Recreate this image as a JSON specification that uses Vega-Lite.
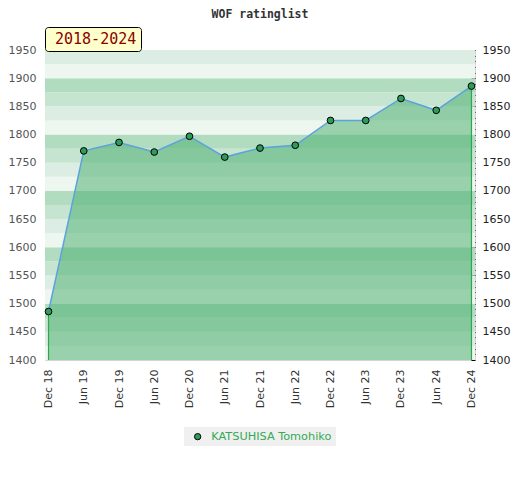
{
  "$schema": "https://vega.github.io/schema/vega-lite/v6.json",
  "width": 430,
  "height": 310,
  "autosize": "none",
  "padding": {"left": 45, "top": 50, "right": 45, "bottom": 120},
  "background": "white",
  "title": {
    "text": "WOF ratinglist",
    "font": "DejaVu Sans Mono",
    "fontSize": 11.5,
    "fontWeight": "bold",
    "color": "#333333",
    "anchor": "middle",
    "offset": 6
  },
  "config": {"view": {"stroke": "#d4d4d4"}},
  "datasets": {
    "ratings": [
      {"date": "Dec 18", "rating": 1486, "player": "KATSUHISA Tomohiko", "period": "2018-2024"},
      {"date": "Jun 19", "rating": 1771, "player": "KATSUHISA Tomohiko", "period": "2018-2024"},
      {"date": "Dec 19", "rating": 1786, "player": "KATSUHISA Tomohiko", "period": "2018-2024"},
      {"date": "Jun 20", "rating": 1769, "player": "KATSUHISA Tomohiko", "period": "2018-2024"},
      {"date": "Dec 20", "rating": 1797, "player": "KATSUHISA Tomohiko", "period": "2018-2024"},
      {"date": "Jun 21", "rating": 1760, "player": "KATSUHISA Tomohiko", "period": "2018-2024"},
      {"date": "Dec 21", "rating": 1776, "player": "KATSUHISA Tomohiko", "period": "2018-2024"},
      {"date": "Jun 22", "rating": 1781, "player": "KATSUHISA Tomohiko", "period": "2018-2024"},
      {"date": "Dec 22", "rating": 1825, "player": "KATSUHISA Tomohiko", "period": "2018-2024"},
      {"date": "Jun 23", "rating": 1825, "player": "KATSUHISA Tomohiko", "period": "2018-2024"},
      {"date": "Dec 23", "rating": 1864, "player": "KATSUHISA Tomohiko", "period": "2018-2024"},
      {"date": "Jun 24", "rating": 1843, "player": "KATSUHISA Tomohiko", "period": "2018-2024"},
      {"date": "Dec 24", "rating": 1886, "player": "KATSUHISA Tomohiko", "period": "2018-2024"}
    ],
    "bands": [
      {"lo": 1400, "hi": 1425, "tier": "d"},
      {"lo": 1425, "hi": 1450, "tier": "c"},
      {"lo": 1450, "hi": 1475, "tier": "b"},
      {"lo": 1475, "hi": 1500, "tier": "a"},
      {"lo": 1500, "hi": 1525, "tier": "d"},
      {"lo": 1525, "hi": 1550, "tier": "c"},
      {"lo": 1550, "hi": 1575, "tier": "b"},
      {"lo": 1575, "hi": 1600, "tier": "a"},
      {"lo": 1600, "hi": 1625, "tier": "d"},
      {"lo": 1625, "hi": 1650, "tier": "c"},
      {"lo": 1650, "hi": 1675, "tier": "b"},
      {"lo": 1675, "hi": 1700, "tier": "a"},
      {"lo": 1700, "hi": 1725, "tier": "d"},
      {"lo": 1725, "hi": 1750, "tier": "c"},
      {"lo": 1750, "hi": 1775, "tier": "b"},
      {"lo": 1775, "hi": 1800, "tier": "a"},
      {"lo": 1800, "hi": 1825, "tier": "d"},
      {"lo": 1825, "hi": 1850, "tier": "c"},
      {"lo": 1850, "hi": 1875, "tier": "b"},
      {"lo": 1875, "hi": 1900, "tier": "a"},
      {"lo": 1900, "hi": 1925, "tier": "d"},
      {"lo": 1925, "hi": 1950, "tier": "c"}
    ]
  },
  "resolve": {"axis": {"y": "independent"}, "scale": {"fill": "independent", "color": "independent"}},
  "layer": [
    {
      "data": {"name": "bands"},
      "mark": {"type": "rect"},
      "encoding": {
        "y": {
          "field": "lo",
          "type": "quantitative",
          "scale": {"domain": [1400, 1950], "nice": false, "zero": false},
          "axis": {
            "values": [1400, 1450, 1500, 1550, 1600, 1650, 1700, 1750, 1800, 1850, 1900, 1950],
            "format": "d",
            "ticks": false,
            "domain": false,
            "grid": false,
            "labelFlush": false,
            "labelOverlap": false,
            "labelFont": "DejaVu Sans",
            "labelFontSize": 11,
            "labelColor": "#555555",
            "labelPadding": 9,
            "title": null
          }
        },
        "y2": {"field": "hi"},
        "fill": {
          "field": "tier",
          "type": "nominal",
          "scale": {"domain": ["a", "b", "c", "d"], "range": ["#b2dcc0", "#c6e5d0", "#dcede3", "#eef6f0"]},
          "legend": null
        }
      }
    },
    {
      "mark": {"type": "rule", "color": "#c8c8c8", "strokeWidth": 1},
      "encoding": {
        "y": {"datum": 1900, "type": "quantitative", "scale": {"domain": [1400, 1950], "nice": false, "zero": false}, "axis": null}
      }
    },
    {
      "data": {"name": "ratings"},
      "mark": {"type": "area", "color": "#44ac6a", "fillOpacity": 0.5},
      "encoding": {
        "x": {
          "field": "date",
          "type": "ordinal",
          "sort": null,
          "scale": {"type": "point", "padding": 0.1},
          "axis": {
            "labelAngle": -90,
            "ticks": false,
            "domain": false,
            "labelFont": "DejaVu Sans",
            "labelFontSize": 11,
            "labelColor": "#333333",
            "labelPadding": 9,
            "title": null
          }
        },
        "y": {"field": "rating", "type": "quantitative", "scale": {"domain": [1400, 1950], "nice": false, "zero": false}, "axis": null},
        "y2": {"datum": 1400}
      }
    },
    {
      "data": {"name": "ratings"},
      "transform": [{"filter": "datum.date === 'Dec 18' || datum.date === 'Dec 24'"}],
      "mark": {"type": "rule", "color": "#2aa84a", "strokeWidth": 1.2},
      "encoding": {
        "x": {"field": "date", "type": "ordinal", "sort": null},
        "y": {"field": "rating", "type": "quantitative", "scale": {"domain": [1400, 1950], "nice": false, "zero": false}, "axis": null},
        "y2": {"datum": 1400}
      }
    },
    {
      "data": {"name": "ratings"},
      "mark": {"type": "line", "color": "#5ca2de", "strokeWidth": 1.5},
      "encoding": {
        "x": {"field": "date", "type": "ordinal", "sort": null},
        "y": {"field": "rating", "type": "quantitative", "scale": {"domain": [1400, 1950], "nice": false, "zero": false}, "axis": null}
      }
    },
    {
      "data": {"name": "ratings"},
      "mark": {"type": "point", "filled": true, "size": 45, "stroke": "black", "strokeWidth": 1, "opacity": 1},
      "encoding": {
        "x": {"field": "date", "type": "ordinal", "sort": null},
        "y": {
          "field": "rating",
          "type": "quantitative",
          "scale": {"domain": [1400, 1950], "nice": false, "zero": false},
          "axis": {
            "orient": "right",
            "values": [1400, 1410, 1420, 1430, 1440, 1450, 1460, 1470, 1480, 1490, 1500, 1510, 1520, 1530, 1540, 1550, 1560, 1570, 1580, 1590, 1600, 1610, 1620, 1630, 1640, 1650, 1660, 1670, 1680, 1690, 1700, 1710, 1720, 1730, 1740, 1750, 1760, 1770, 1780, 1790, 1800, 1810, 1820, 1830, 1840, 1850, 1860, 1870, 1880, 1890, 1900, 1910, 1920, 1930, 1940, 1950],
            "format": "d",
            "labelExpr": "datum.value % 50 === 0 ? datum.label : ''",
            "ticks": true,
            "tickSize": -4,
            "tickColor": "black",
            "tickWidth": 1,
            "domain": false,
            "grid": false,
            "labelFlush": false,
            "labelOverlap": false,
            "labelFont": "DejaVu Sans",
            "labelFontSize": 11,
            "labelColor": "#222222",
            "labelPadding": 11,
            "title": null
          }
        },
        "color": {
          "field": "player",
          "type": "nominal",
          "scale": {"range": ["#2e9b5a"]},
          "legend": {
            "orient": "none",
            "legendX": 139,
            "legendY": 377,
            "title": null,
            "fillColor": "#f0f0f0",
            "padding": 4,
            "symbolOffset": 4,
            "symbolType": "circle",
            "symbolSize": 40,
            "symbolStrokeColor": "black",
            "symbolStrokeWidth": 1,
            "labelFont": "DejaVu Sans",
            "labelFontSize": 11.3,
            "labelColor": "#33aa55",
            "labelOffset": 8
          }
        },
        "shape": {
          "field": "period",
          "type": "nominal",
          "scale": {"range": ["circle"]},
          "legend": {
            "orient": "none",
            "legendX": 0,
            "legendY": -23,
            "title": null,
            "fillColor": "#ffffcc",
            "strokeColor": "black",
            "cornerRadius": 3,
            "padding": 4,
            "symbolSize": 0,
            "symbolOpacity": 0,
            "labelOffset": -9,
            "labelFont": "DejaVu Sans Mono",
            "labelFontSize": 15,
            "labelColor": "#8b0000"
          }
        }
      }
    }
  ]
}
